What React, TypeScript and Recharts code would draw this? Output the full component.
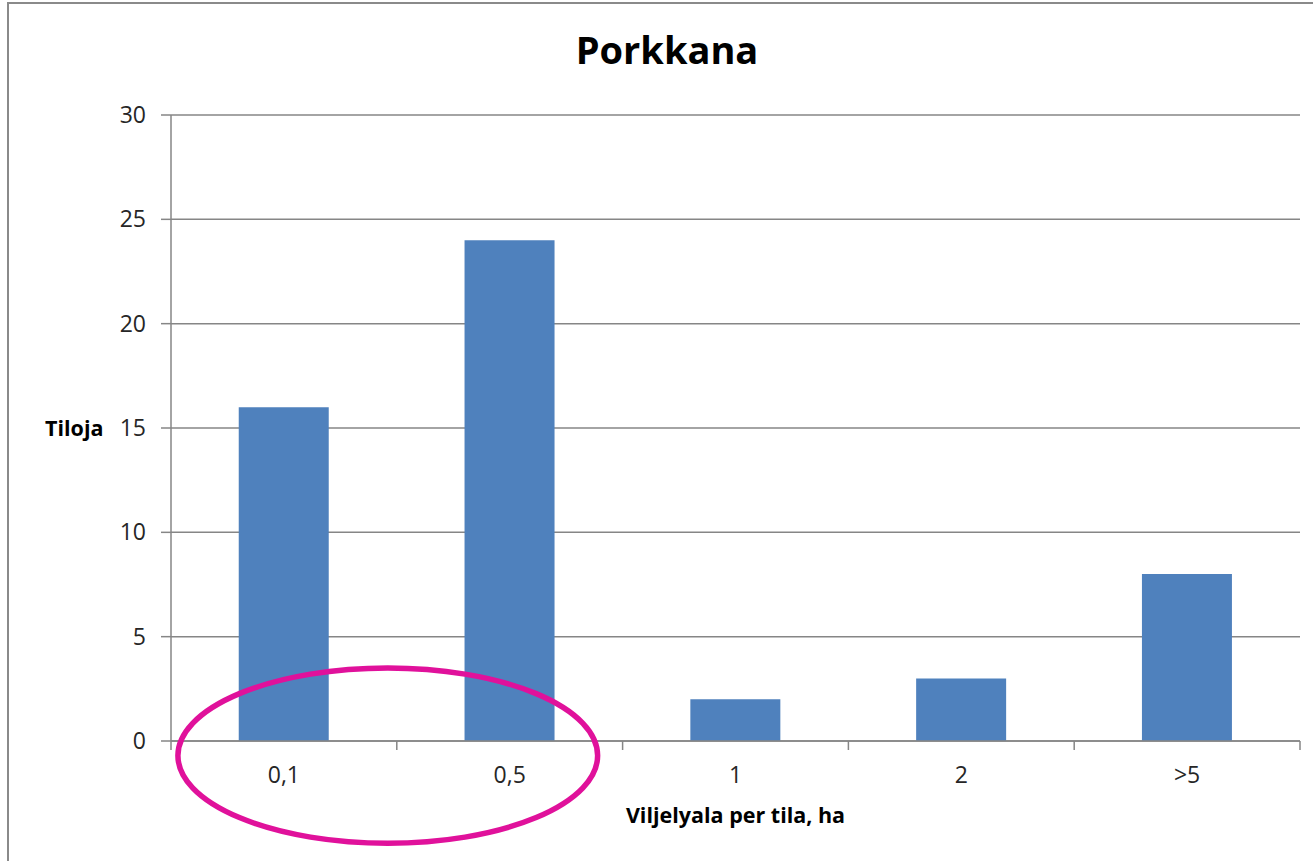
import React from 'react';
import { BarChart, Bar, XAxis, YAxis, CartesianGrid, ReferenceArea } from 'recharts';

const categories = ['0,1', '0,5', '1', '2', '>5'];
const tilojaValues = [16, 24, 2, 3, 8];
const yTicks = [0, 5, 10, 15, 20, 25, 30];
const highlightCategories = ['0,1', '0,5'];
const highlightValueRange = [-4.9, 3.5];

const data = categories.map((c, i) => ({ name: c, tiloja: tilojaValues[i] }));

const GRID = '#868686';
const FONT = '"Open Sans", "DejaVu Sans", sans-serif';
const X_TICK_SIZE = 9;
const X_TICK_MARGIN = 17;

const XTick = (props: any) => {
  const { x, y, payload, index, visibleTicksCount } = props;
  const half = payload.offset || 0;
  const axisY = y - X_TICK_SIZE - X_TICK_MARGIN;
  const isLast = index === visibleTicksCount - 1;
  return (
    <g>
      <line x1={x - half} x2={x - half} y1={axisY} y2={axisY + X_TICK_SIZE} stroke={GRID} strokeWidth={1.5} />
      {isLast && (
        <line x1={x + half} x2={x + half} y1={axisY} y2={axisY + X_TICK_SIZE} stroke={GRID} strokeWidth={1.5} />
      )}
      <text x={x} y={y} dy="0.71em" textAnchor="middle" fill="#262626" fontSize={23} fontFamily={FONT}>
        {payload.value}
      </text>
    </g>
  );
};

const EllipseShape = (props: any) => {
  const { x, y, width, height } = props;
  const cx = x + width * 0.48;
  const rx = width * 0.4647;
  return (
    <ellipse cx={cx} cy={y + height / 2} rx={rx} ry={height / 2} fill="none" stroke="#E0119B" strokeWidth={5.5} />
  );
};

export default function App() {
  return (
    <div
      style={{
        position: 'absolute',
        left: 7,
        top: 2,
        width: 1330,
        height: 880,
        border: '2px solid #8a8a8a',
        background: '#fff',
        overflow: 'hidden',
      }}
    >
      <div
        style={{
          position: 'absolute',
          left: 0,
          width: 1316,
          top: 20,
          textAlign: 'center',
          fontFamily: FONT,
          fontWeight: 700,
          fontSize: 38,
          lineHeight: '50px',
          color: '#000',
        }}
      >
        Porkkana
      </div>
      <BarChart
        width={1300}
        height={857}
        data={data}
        margin={{ top: 111, right: 9, bottom: 30, left: 0 }}
        barCategoryGap="30%"
      >
        <CartesianGrid vertical={false} stroke={GRID} strokeWidth={1.5} />
        <XAxis
          dataKey="name"
          height={90}
          axisLine={{ stroke: GRID, strokeWidth: 1.5 }}
          tickLine={false}
          tickSize={X_TICK_SIZE}
          tickMargin={X_TICK_MARGIN}
          tick={<XTick />}
          interval={0}
          label={{
            value: 'Viljelyala per tila, ha',
            position: 'insideBottom',
            offset: 8,
            fill: '#000',
            fontSize: 21.5,
            fontWeight: 700,
            fontFamily: FONT,
          }}
        />
        <YAxis
          width={162}
          domain={[0, 30]}
          ticks={yTicks}
          interval={0}
          axisLine={{ stroke: GRID, strokeWidth: 1.5 }}
          tickLine={{ stroke: GRID, strokeWidth: 1.5 }}
          tickSize={10}
          tickMargin={15}
          tick={{ fill: '#262626', fontSize: 23, fontFamily: FONT }}
          label={{
            value: 'Tiloja',
            position: 'insideLeft',
            offset: 36,
            fill: '#000',
            fontSize: 21.5,
            fontWeight: 700,
            fontFamily: FONT,
          }}
        />
        <Bar dataKey="tiloja" fill="#4F81BD" isAnimationActive={false} />
        <ReferenceArea
          x1={highlightCategories[0]}
          x2={highlightCategories[1]}
          y1={highlightValueRange[0]}
          y2={highlightValueRange[1]}
          ifOverflow="visible"
          zIndex={2000}
          shape={<EllipseShape />}
        />
      </BarChart>
    </div>
  );
}
